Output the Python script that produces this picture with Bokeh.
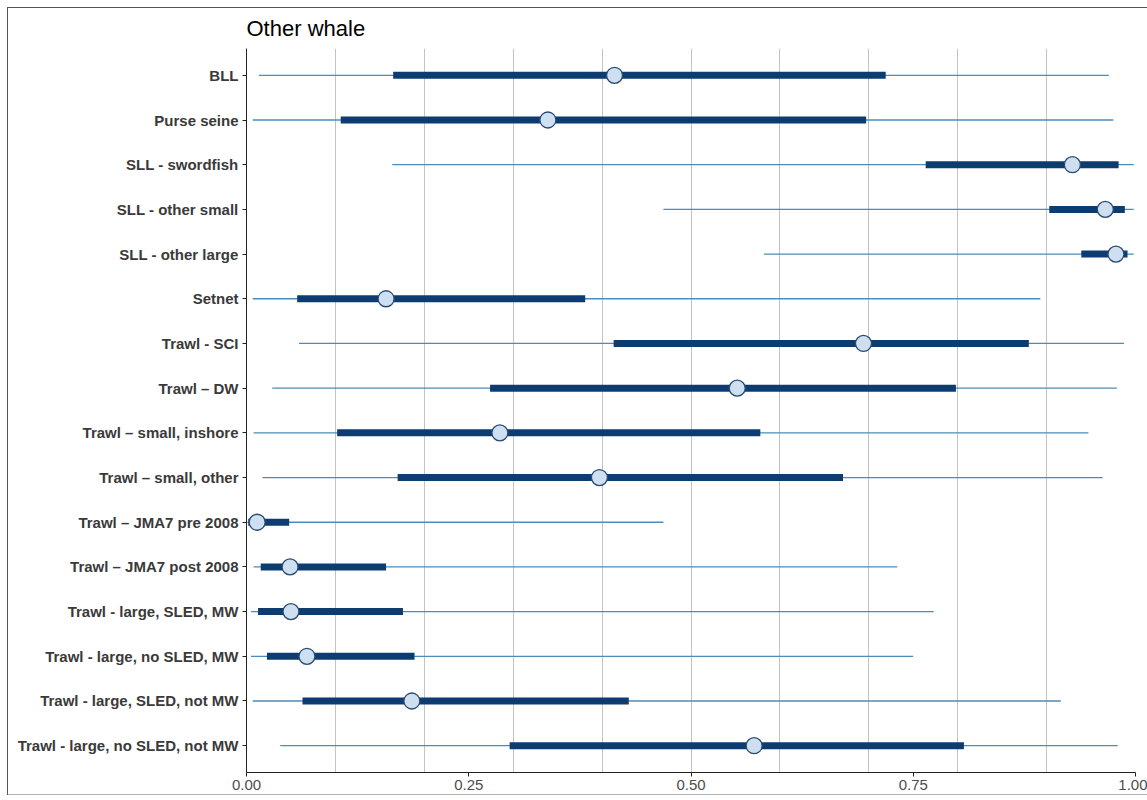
from bokeh.plotting import figure
from bokeh.models import FactorRange, Range1d, FixedTicker, ColumnDataSource
from bokeh.embed import file_html
from bokeh.resources import INLINE

categories = [
    "BLL", "Purse seine", "SLL - swordfish", "SLL - other small", "SLL - other large",
    "Setnet", "Trawl - SCI", "Trawl \u2013 DW", "Trawl \u2013 small, inshore",
    "Trawl \u2013 small, other", "Trawl \u2013 JMA7 pre 2008", "Trawl \u2013 JMA7 post 2008",
    "Trawl - large, SLED, MW", "Trawl - large, no SLED, MW",
    "Trawl - large, SLED, not MW", "Trawl - large, no SLED, not MW",
]
outer_lo = [0.014, 0.007, 0.164, 0.469, 0.582, 0.007, 0.059, 0.029, 0.008, 0.018, 0.001, 0.008, 0.005, 0.005, 0.007, 0.038]
inner_lo = [0.165, 0.106, 0.764, 0.903, 0.939, 0.057, 0.413, 0.274, 0.102, 0.170, 0.002, 0.016, 0.013, 0.023, 0.063, 0.296]
median   = [0.414, 0.339, 0.929, 0.966, 0.978, 0.157, 0.694, 0.552, 0.285, 0.397, 0.012, 0.049, 0.050, 0.068, 0.186, 0.571]
inner_hi = [0.719, 0.697, 0.981, 0.988, 0.991, 0.381, 0.880, 0.798, 0.578, 0.671, 0.048, 0.157, 0.176, 0.189, 0.430, 0.807]
outer_hi = [0.970, 0.975, 0.998, 0.998, 0.998, 0.893, 0.987, 0.979, 0.947, 0.963, 0.469, 0.732, 0.773, 0.750, 0.916, 0.980]

x_ticks = [0.0, 0.25, 0.5, 0.75, 1.0]
x_tick_labels = ["0.00", "0.25", "0.50", "0.75", "1.00"]
grid_ticks = [0.1, 0.2, 0.3, 0.4, 0.5, 0.6, 0.7, 0.8, 0.9, 1.0]

src = ColumnDataSource(dict(cat=categories, olo=outer_lo, ilo=inner_lo, med=median,
                            ihi=inner_hi, ohi=outer_hi))

p = figure(
    y_range=FactorRange(factors=list(reversed(categories)), range_padding=0.1,
                        range_padding_units="absolute"),
    x_range=Range1d(0, 1),
    frame_width=889, frame_height=724,
    min_border_left=246, min_border_top=48, min_border_right=12, min_border_bottom=26,
    output_backend="svg", toolbar_location=None,
    title="Other whale",
    styles={"box-shadow": "inset 7px 7px 0 0 white, inset 0 -3px 0 0 white, "
                          "inset 8px 8px 0 0 #555555, inset 0 -4px 0 0 #b0b0b0"},
)
p.outline_line_color = None
p.background_fill_color = "white"
p.border_fill_color = None

p.title.text_font = "Liberation Sans"
p.title.text_font_size = "22px"
p.title.text_font_style = "normal"
p.title.text_color = "black"
p.title.align = "left"
p.title.standoff = 15

p.ygrid.grid_line_color = None
p.xgrid.ticker = FixedTicker(ticks=grid_ticks)
p.xgrid.grid_line_color = "#c4c4c4"
p.xgrid.grid_line_width = 1

p.xaxis.ticker = FixedTicker(ticks=x_ticks)
p.xaxis.major_label_overrides = {t: l for t, l in zip(x_ticks, x_tick_labels)}
for ax in (p.xaxis, p.yaxis):
    ax.axis_line_color = "#222222"
    ax.axis_line_width = 1
    ax.major_tick_line_color = "#222222"
    ax.major_tick_in = 0
    ax.major_tick_out = 4
    ax.minor_tick_line_color = None
    ax.major_label_text_font = "Liberation Sans"
p.xaxis.major_label_text_font_size = "15px"
p.xaxis.major_label_text_color = "#4d4d4d"
p.xaxis.major_label_standoff = 3
p.yaxis.major_label_text_font_size = "15px"
p.yaxis.major_label_text_font_style = "bold"
p.yaxis.major_label_text_color = "#3a3a3a"
p.yaxis.major_label_standoff = 4

p.segment(x0="olo", y0="cat", x1="ohi", y1="cat", source=src,
          line_color="#4a8cbd", line_width=1.3)
p.segment(x0="ilo", y0="cat", x1="ihi", y1="cat", source=src,
          line_color="#0c3c70", line_width=7, line_cap="butt")
p.scatter(x="med", y="cat", source=src, size=16, marker="circle",
          fill_color="#cddff0", line_color="#2a4a70", line_width=1.3)

open("out.html", "w").write(file_html(p, INLINE))
